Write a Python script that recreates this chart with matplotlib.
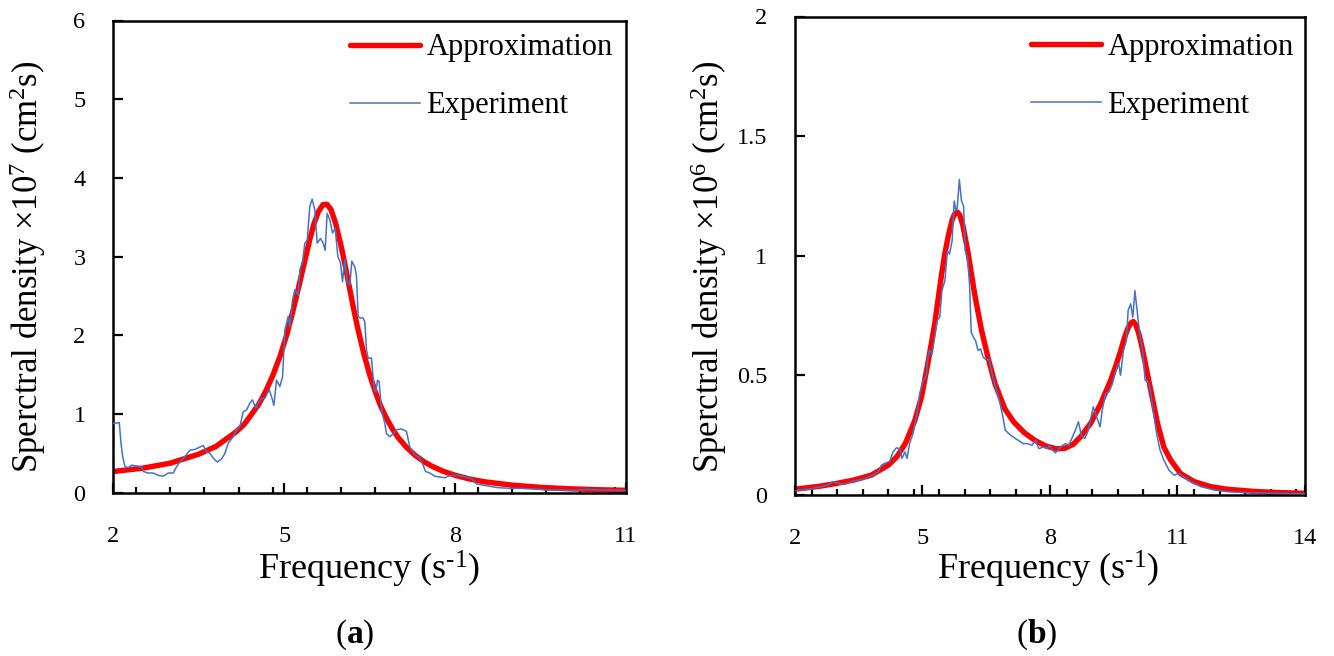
import matplotlib
matplotlib.use('Agg')
import matplotlib.pyplot as plt
from matplotlib.ticker import MultipleLocator, FuncFormatter

plt.rcParams['font.family'] = ['Liberation Serif', 'DejaVu Serif']
plt.rcParams['mathtext.fontset'] = 'custom'
plt.rcParams['mathtext.rm'] = 'Liberation Serif'
plt.rcParams['mathtext.it'] = 'Liberation Serif:italic'
plt.rcParams['mathtext.bf'] = 'Liberation Serif:bold'

# ---------------- data: panel (a) ----------------
approx_a_x = [2.0, 2.5, 3.0, 3.5, 3.8, 4.15, 4.3, 4.55, 4.68, 4.8, 4.93, 5.05, 5.15, 5.25, 5.35,
              5.45, 5.52, 5.6, 5.68, 5.75, 5.82, 5.9, 6.0, 6.08, 6.15, 6.22, 6.3, 6.4, 6.5, 6.6,
              6.7, 6.8, 6.9, 7.0, 7.15, 7.3, 7.45, 7.6, 7.8, 8.0, 8.25, 8.5, 9.0, 9.5, 10.0,
              10.5, 11.0]
approx_a_y = [0.27, 0.31, 0.375, 0.49, 0.587, 0.77, 0.87, 1.12, 1.295, 1.49, 1.74, 2.02, 2.30,
              2.60, 2.91, 3.22, 3.41, 3.57, 3.66, 3.665, 3.60, 3.43, 3.13, 2.85, 2.59, 2.33, 2.06,
              1.76, 1.50, 1.28, 1.09, 0.94, 0.81, 0.70, 0.574, 0.474, 0.396, 0.334, 0.270, 0.221,
              0.175, 0.14, 0.096, 0.068, 0.050, 0.038, 0.030]

exp_a_x = [2.00, 2.105, 2.135, 2.164, 2.205, 2.263, 2.322, 2.409, 2.497, 2.526,
           2.614, 2.702, 2.789, 2.877, 2.965, 3.053, 3.111, 3.170, 3.257, 3.345,
           3.433, 3.520, 3.579, 3.637, 3.696, 3.754, 3.825, 3.901, 3.959, 4.018,
           4.105, 4.164, 4.222, 4.281, 4.339, 4.398, 4.444, 4.503, 4.544, 4.602,
           4.661, 4.737, 4.778, 4.819, 4.865, 4.924, 4.971, 5.012, 5.070, 5.099,
           5.146, 5.187, 5.246, 5.275, 5.322, 5.363, 5.404, 5.450, 5.491, 5.538,
           5.579, 5.637, 5.684, 5.719, 5.754, 5.801, 5.848, 5.895, 5.942, 5.988,
           6.023, 6.064, 6.105, 6.152, 6.187, 6.240,
           6.269, 6.298, 6.328, 6.386, 6.415, 6.445, 6.474, 6.532, 6.579, 6.608,
           6.638, 6.667, 6.708, 6.766, 6.796, 6.854, 6.913, 6.971, 7.059, 7.146,
           7.205, 7.293, 7.380, 7.439, 7.480, 7.556, 7.644, 7.731, 7.819, 7.877,
           7.965, 8.053, 8.170, 8.287, 8.374, 8.462, 8.579, 8.754, 8.988, 9.164,
           9.398, 9.632, 9.866, 10.10, 10.33, 10.57, 10.80, 11.0]
exp_a_y = [0.88, 0.89, 0.63, 0.46, 0.33, 0.32, 0.35, 0.34, 0.33, 0.27,
           0.25, 0.25, 0.22, 0.21, 0.25, 0.25, 0.33, 0.39, 0.46, 0.54,
           0.55, 0.58, 0.60, 0.52, 0.50, 0.44, 0.39, 0.43, 0.50, 0.63,
           0.71, 0.80, 0.84, 1.03, 1.05, 1.14, 1.18, 1.07, 1.14, 1.20,
           1.20, 1.31, 1.22, 1.11, 1.43, 1.35, 1.47, 2.07, 2.24, 2.11,
           2.45, 2.58, 2.51, 2.83, 2.94, 3.17, 3.21, 3.64, 3.73, 3.59,
           3.17, 3.23, 3.17, 3.08, 3.55, 3.47, 3.30, 3.36, 3.00, 2.92,
           2.68, 2.96, 2.68, 2.64, 2.94, 2.87,
           2.75, 2.24, 2.22, 2.22, 2.17, 1.81, 1.71, 1.71, 1.31, 1.28,
           1.43, 1.41, 1.05, 0.88, 0.75, 0.71, 0.75, 0.80, 0.81, 0.78,
           0.58, 0.48, 0.44, 0.35, 0.27, 0.25, 0.21, 0.20, 0.19, 0.21,
           0.22, 0.22, 0.20, 0.18, 0.11, 0.10, 0.085, 0.064, 0.055, 0.055,
           0.047, 0.034, 0.034, 0.030, 0.042, 0.034, 0.030, 0.030]

# ---------------- data: panel (b) ----------------
approx_b_x = [2.0, 2.6, 3.0, 3.4, 3.8, 4.2, 4.4, 4.6, 4.82, 4.98, 5.13, 5.29, 5.45, 5.53, 5.61,
              5.7, 5.76, 5.82, 5.88, 5.95, 6.02, 6.08, 6.23, 6.39, 6.55, 6.71, 6.94, 7.15, 7.4,
              7.65, 7.9, 8.15, 8.35, 8.55, 8.72, 8.96, 9.19, 9.43, 9.55, 9.66, 9.75, 9.83, 9.9,
              9.96, 10.02, 10.09, 10.17, 10.25, 10.37, 10.53, 10.68, 10.84, 11.07, 11.39, 11.78,
              12.17, 12.8, 13.4, 14.0]
approx_b_y = [0.024, 0.037, 0.049, 0.063, 0.083, 0.125, 0.16, 0.215, 0.31, 0.41, 0.55, 0.715,
              0.92, 1.01, 1.083, 1.15, 1.175, 1.183, 1.17, 1.13, 1.065, 1.007, 0.84, 0.69, 0.57,
              0.465, 0.36, 0.305, 0.26, 0.228, 0.205, 0.193, 0.195, 0.212, 0.243, 0.30, 0.38,
              0.48, 0.54, 0.60, 0.655, 0.695, 0.718, 0.725, 0.712, 0.675, 0.615, 0.545, 0.44,
              0.30, 0.20, 0.146, 0.09, 0.056, 0.035, 0.024, 0.015, 0.01, 0.007]

exp_b_x = [2.00, 2.31, 2.62, 2.78, 2.90, 3.02, 3.17, 3.33, 3.49, 3.64,
           3.84, 3.96, 4.04, 4.15, 4.23, 4.31, 4.39, 4.47, 4.52, 4.59,
           4.64, 4.70, 4.78, 4.86, 4.94, 5.02, 5.09, 5.13, 5.17, 5.23,
           5.29, 5.35, 5.41, 5.46, 5.53, 5.59, 5.64, 5.70, 5.75, 5.79,
           5.82, 5.87, 5.92, 5.97, 6.01, 6.06, 6.11, 6.15, 6.20, 6.25,
           6.31, 6.37, 6.43, 6.51, 6.57, 6.64, 6.72, 6.80, 6.88, 6.95,
           7.03, 7.13, 7.25, 7.37,
           7.47, 7.58, 7.66, 7.74, 7.86, 7.94, 7.98, 8.06, 8.13, 8.25,
           8.37, 8.45, 8.53, 8.60, 8.67, 8.74, 8.82, 8.89, 8.96, 9.02,
           9.10, 9.18, 9.23, 9.31, 9.39, 9.47, 9.55, 9.62, 9.66, 9.73,
           9.80, 9.84, 9.90, 9.95, 10.00, 10.06, 10.12, 10.18, 10.24, 10.29,
           10.35, 10.43, 10.51, 10.59, 10.68, 10.80, 10.92, 11.04, 11.15, 11.31,
           11.55, 11.86, 12.17, 12.64, 13.23, 14.0]
exp_b_y = [0.018, 0.024, 0.035, 0.042, 0.056, 0.049, 0.044, 0.056, 0.062, 0.069,
           0.083, 0.097, 0.125, 0.135, 0.139, 0.18, 0.197, 0.194, 0.153, 0.18,
           0.153, 0.215, 0.257, 0.326, 0.424, 0.479, 0.493, 0.576, 0.604, 0.59,
           0.66, 0.729, 0.743, 0.854, 0.896, 1.021, 1.007, 1.063, 1.229, 1.188,
           1.201, 1.319, 1.229, 1.208, 1.021, 0.993, 0.882, 0.681, 0.66, 0.646,
           0.604, 0.611, 0.576, 0.563, 0.569, 0.507, 0.451, 0.403, 0.34, 0.271,
           0.257, 0.243, 0.229, 0.215,
           0.215, 0.208, 0.229, 0.194, 0.201, 0.194, 0.208, 0.188, 0.176, 0.201,
           0.215, 0.208, 0.243, 0.271, 0.306, 0.25, 0.236, 0.264, 0.319, 0.368,
           0.326, 0.285, 0.354, 0.424, 0.431, 0.465, 0.521, 0.549, 0.50, 0.604,
           0.646, 0.771, 0.799, 0.743, 0.854, 0.757, 0.66, 0.604, 0.479, 0.479,
           0.451, 0.354, 0.257, 0.188, 0.146, 0.104, 0.083, 0.09, 0.076, 0.056,
           0.035, 0.021, 0.014, 0.01, 0.007, 0.005]

series_labels = ['Approximation', 'Experiment']
xticks_a = [2, 5, 8, 11]
xticks_b = [2, 5, 8, 11, 14]
ylabel_a = 'Sperctral density \u00d710$^7$ (cm$^2$s)'
ylabel_b = 'Sperctral density \u00d710$^6$ (cm$^2$s)'
xlabel = 'Frequency (s$^{\\text{-1}}$)'
panel_labels = ['($\\mathbf{a}$)', '($\\mathbf{b}$)']

W, H = 1334, 656
fig = plt.figure(figsize=(W / 100, H / 100), dpi=100)


def make_ax(l, r, t, b):
    return fig.add_axes([l / W, 1 - b / H, (r - l) / W, (b - t) / H])


axA = make_ax(113.3, 626, 20.5, 492.7)
axB = make_ax(794.8, 1305, 16.5, 495)

RED = '#FF0000'
BLUE = '#4472C4'

panels = [
    (axA, approx_a_x, approx_a_y, exp_a_x, exp_a_y, xticks_a, (0, 6), 1, (0.4617, 0.973)),
    (axB, approx_b_x, approx_b_y, exp_b_x, exp_b_y, xticks_b, (0, 2), 0.5, (0.463, 0.966)),
]

for ax, ax_x, ax_y, ex_x, ex_y, xt, ylim, ystep, leg_anchor in panels:
    ax.plot(ax_x, ax_y, color=RED, lw=3.9, solid_capstyle='round', solid_joinstyle='round',
            label=series_labels[0], zorder=2)
    ax.plot(ex_x, ex_y, color=BLUE, lw=1.1, label=series_labels[1], zorder=3)
    ax.set_xlim(xt[0], xt[-1])
    ax.set_ylim(*ylim)
    ax.set_xticks(xt)
    ax.xaxis.set_minor_locator(MultipleLocator(0.6))
    ax.yaxis.set_major_locator(MultipleLocator(ystep))
    ax.yaxis.set_major_formatter(FuncFormatter(lambda v, p: '%g' % v))
    for s in ax.spines.values():
        s.set_linewidth(1.8)
    ax.tick_params(axis='both', which='both', direction='in', top=False, right=False,
                   labelsize=17.5, width=1.6)
    ax.tick_params(axis='x', which='major', length=7, pad=24)
    ax.tick_params(axis='x', which='minor', length=4.5)
    ax.tick_params(axis='y', which='major', length=7, pad=20)
    ax.legend(loc='upper left', bbox_to_anchor=leg_anchor, frameon=False, fontsize=22,
              handlelength=2.29, handletextpad=0.21, labelspacing=0.95, borderpad=0,
              borderaxespad=0)

# axis labels and panel labels
fig.text(28 / W, 1 - 267 / H, ylabel_a, rotation=90, ha='center', va='center', fontsize=25)
fig.text(709 / W, 1 - 267 / H, ylabel_b, rotation=90, ha='center', va='center', fontsize=25)
fig.text(369.5 / W, 1 - 580 / H, xlabel, ha='center', va='baseline', fontsize=26)
fig.text(1048 / W, 1 - 580 / H, xlabel, ha='center', va='baseline', fontsize=26)
fig.text(355 / W, 1 - 643 / H, panel_labels[0], ha='center', va='baseline', fontsize=24)
fig.text(1037 / W, 1 - 643 / H, panel_labels[1], ha='center', va='baseline', fontsize=24)

fig.savefig('out.png', dpi=100)
